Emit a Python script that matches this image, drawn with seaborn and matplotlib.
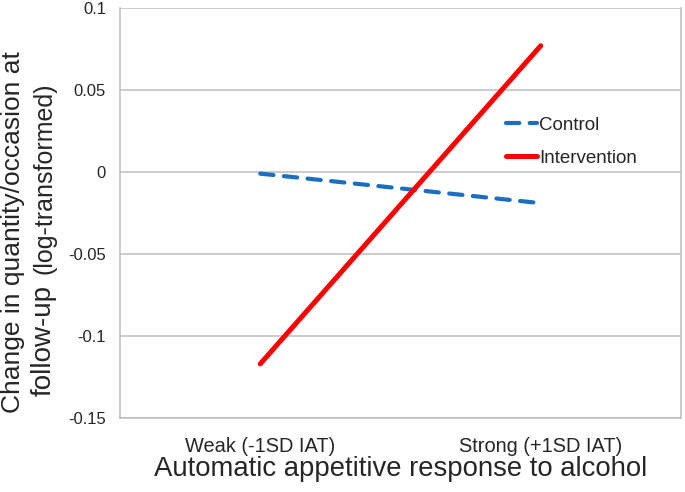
import pandas as pd
import numpy as np
import matplotlib
matplotlib.use("Agg")
import matplotlib.pyplot as plt
import seaborn as sns

# values
categories = ["Weak (-1SD IAT)", "Strong (+1SD IAT)"]
control = [-0.001, -0.019]
intervention = [-0.117, 0.077]
y_ticks = [-0.15, -0.1, -0.05, 0, 0.05, 0.1]
y_tick_labels = ["-0.15", "-0.1", "-0.05", "0", "0.05", "0.1"]

df = pd.DataFrame({
    "iat": categories * 2,
    "change": control + intervention,
    "group": ["Control"] * 2 + ["Intervention"] * 2,
})

sns.set_style("white")
plt.rcParams["font.family"] = ["Liberation Sans", "DejaVu Sans"]

fig = plt.figure(figsize=(6.85, 4.92), dpi=100)
ax = fig.add_axes([120 / 685, 1 - 418 / 492, 561 / 685, 410 / 492])

grid_col = "#bdbdbd"
for t in y_ticks:
    ax.axhline(t, color=grid_col, lw=1.1, zorder=0)

sns.lineplot(data=df, x="iat", y="change", hue="group", style="group",
             palette={"Control": "#1b6fc2", "Intervention": "#ff0000"},
             dashes={"Control": (3.2, 2.5), "Intervention": ""},
             sort=False, ax=ax, legend=False)

lines = ax.get_lines()[-2:]
for ln in lines:
    ln.set_solid_capstyle("round")
    ln.set_dash_capstyle("round")
lines[0].set_linewidth(3.0)
lines[1].set_linewidth(3.6)

ax.set_xlim(-0.5, 1.5)
ax.set_ylim(-0.15, 0.1)
ax.set_yticks(y_ticks)
ax.set_yticklabels(y_tick_labels, fontsize=12)
ax.tick_params(axis="y", length=0, pad=10)
ax.tick_params(axis="x", length=0, pad=14, labelsize=14.4)
ax.set_xlabel("Automatic appetitive response to alcohol", fontsize=19.8, labelpad=0)
ax.set_ylabel("")

for s in ax.spines.values():
    s.set_visible(True)
    s.set_color(grid_col)
    s.set_linewidth(1.1)
ax.spines["top"].set_visible(False)

leg = ax.legend(lines, ["Control", "Intervention"], loc="upper left",
                bbox_to_anchor=(499 / 685, 1 - 109 / 492), bbox_transform=fig.transFigure,
                frameon=False, fontsize=13.5, handlelength=1.65, handletextpad=0.1,
                labelspacing=0.85, borderaxespad=0)

# y label in two lines, the bracket part a bit smaller
fig.text(13 / 685, 1 - 232 / 492, "Change in quantity/occasion at", rotation=90,
         ha="center", va="center", fontsize=19)
fig.text(44 / 685, 1 - 396 / 492, "follow-up", rotation=90,
         ha="center", va="bottom", fontsize=20)
fig.text(45 / 685, 1 - 82 / 492, "(log-transformed)", rotation=90,
         ha="center", va="top", fontsize=18)

fig.savefig("out.png", dpi=100)
